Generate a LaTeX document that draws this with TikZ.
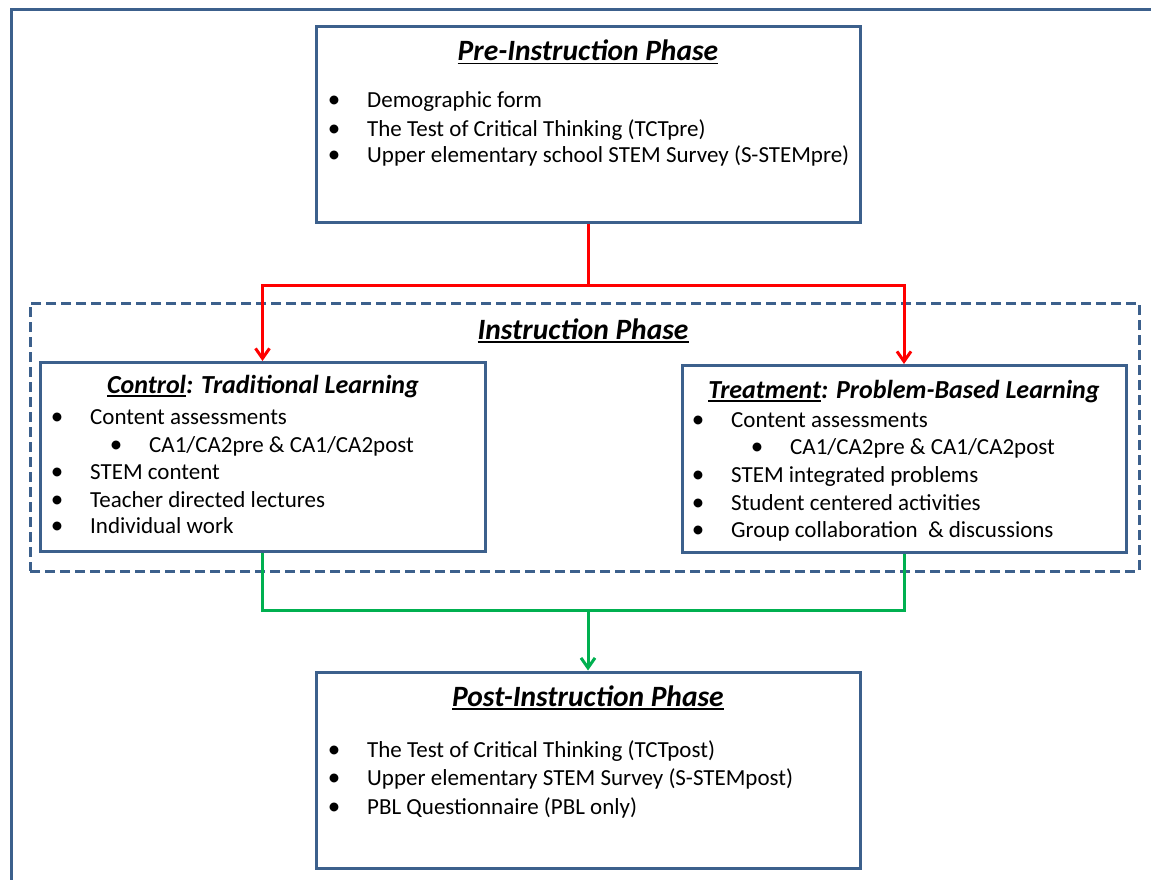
\documentclass[tikz,border=0pt]{standalone}
\usepackage{fontspec}
\setmainfont{Carlito}
\usetikzlibrary{arrows.meta}
\definecolor{boxblue}{RGB}{60,96,140}
\definecolor{linered}{RGB}{255,0,0}
\definecolor{linegreen}{RGB}{0,176,80}
\newcommand{\phul}[1]{\setbox0\hbox{#1}\rlap{\rule[-3.5pt]{\wd0}{1.8pt}}\box0}
\begin{document}
\begin{tikzpicture}[x=1pt,y=-1pt,
  phasebox/.style={draw=boxblue, line width=3pt, rectangle, inner sep=0pt},
  instrbox/.style={draw=boxblue, line width=3pt, rectangle, inner sep=0pt, dash pattern=on 10pt off 5pt},
  maintitle/.style={anchor=base, inner sep=0pt, font=\fontsize{29.5}{34}\selectfont\bfseries\itshape},
  subtitle/.style={anchor=base, inner sep=0pt, font=\fontsize{26}{30}\selectfont\bfseries\itshape},
  bodytext/.style={anchor=base west, inner sep=0pt, font=\fontsize{23}{27}\selectfont},
  bul/.style={anchor=base, inner sep=0pt, font=\fontsize{25}{27}\selectfont},
  redline/.style={draw=linered, line width=3pt},
  greenline/.style={draw=linegreen, line width=3pt},
  tip/.style={-{Straight Barb[length=10pt,width=14pt]}}
]
\useasboundingbox (0,0) rectangle (1151,880);
\clip (0,0) rectangle (1151,880);
% outer frame
\draw[boxblue, line width=3pt] (1170,10) -- (11,10) -- (11,900);

% boxes
\node[phasebox, minimum width=544pt, minimum height=196pt] (pre) at (588,124.5) {};
\node[instrbox, minimum width=1109pt, minimum height=268pt] (instr) at (584.5,437) {};
\node[phasebox, minimum width=445pt, minimum height=189pt] (ctrl) at (262.5,457) {};
\node[phasebox, minimum width=444pt, minimum height=187pt] (treat) at (904,459) {};
\node[phasebox, minimum width=544pt, minimum height=196pt] (post) at (588,770) {};

% connectors
\coordinate (fork) at (588,285);
\coordinate (join) at (588,610);
\draw[redline] (pre.south) -- (fork);
\draw[redline, tip] (fork) -| (ctrl.north);
\draw[redline, tip] (fork) -| (treat.north);
\draw[greenline] (ctrl.south) |- (join);
\draw[greenline] (treat.south) |- (join);
\draw[greenline, tip] (join) -- (post.north);

% pre-instruction
\node[maintitle] (pretitle) at (588,61) {\phul{Pre-Instruction Phase}};
\node[bul] (pb1) at (334,108) {\textbullet};
\node[bodytext] (pt1) at (367,108) {Demographic form};
\node[bul] (pb2) at (334,136) {\textbullet};
\node[bodytext] (pt2) at (367,136) {The Test of Critical Thinking (TCTpre)};
\node[bul] (pb3) at (334,163) {\textbullet};
\node[bodytext] (pt3) at (367,163) {Upper elementary school STEM Survey (S-STEMpre)};

% instruction
\node[maintitle] (instrtitle) at (583,339) {\phul{Instruction Phase}};

% control
\node[subtitle] (ctitle) at (263,393) {\phul{Control}: Traditional Learning};
\node[bul] (cb1) at (57,424) {\textbullet};
\node[bodytext] (ct1) at (90,424) {Content assessments};
\node[bul] (cb2) at (116,452) {\textbullet};
\node[bodytext] (ct2) at (149,452) {CA1/CA2pre \& CA1/CA2post};
\node[bul] (cb3) at (57,479) {\textbullet};
\node[bodytext] (ct3) at (90,479) {STEM content};
\node[bul] (cb4) at (57,507) {\textbullet};
\node[bodytext] (ct4) at (90,507) {Teacher directed lectures};
\node[bul] (cb5) at (57,533) {\textbullet};
\node[bodytext] (ct5) at (90,533) {Individual work};

% treatment
\node[subtitle] (ttitle) at (904,398) {\phul{Treatment}: Problem-Based Learning};
\node[bul] (tb1) at (698,427) {\textbullet};
\node[bodytext] (tt1) at (731,427) {Content assessments};
\node[bul] (tb2) at (757,454) {\textbullet};
\node[bodytext] (tt2) at (790,454) {CA1/CA2pre \& CA1/CA2post};
\node[bul] (tb3) at (698,482) {\textbullet};
\node[bodytext] (tt3) at (731,482) {STEM integrated problems};
\node[bul] (tb4) at (698,510) {\textbullet};
\node[bodytext] (tt4) at (731,510) {Student centered activities};
\node[bul] (tb5) at (698,537) {\textbullet};
\node[bodytext] (tt5) at (731,537) {Group collaboration~ \& discussions};

% post-instruction
\node[maintitle] (posttitle) at (588,706) {\phul{Post-Instruction Phase}};
\node[bul] (qb1) at (334,757) {\textbullet};
\node[bodytext] (qt1) at (367,757) {The Test of Critical Thinking (TCTpost)};
\node[bul] (qb2) at (334,785) {\textbullet};
\node[bodytext] (qt2) at (367,785) {Upper elementary STEM Survey (S-STEMpost)};
\node[bul] (qb3) at (334,814) {\textbullet};
\node[bodytext] (qt3) at (367,814) {PBL Questionnaire (PBL only)};
\end{tikzpicture}
\end{document}
